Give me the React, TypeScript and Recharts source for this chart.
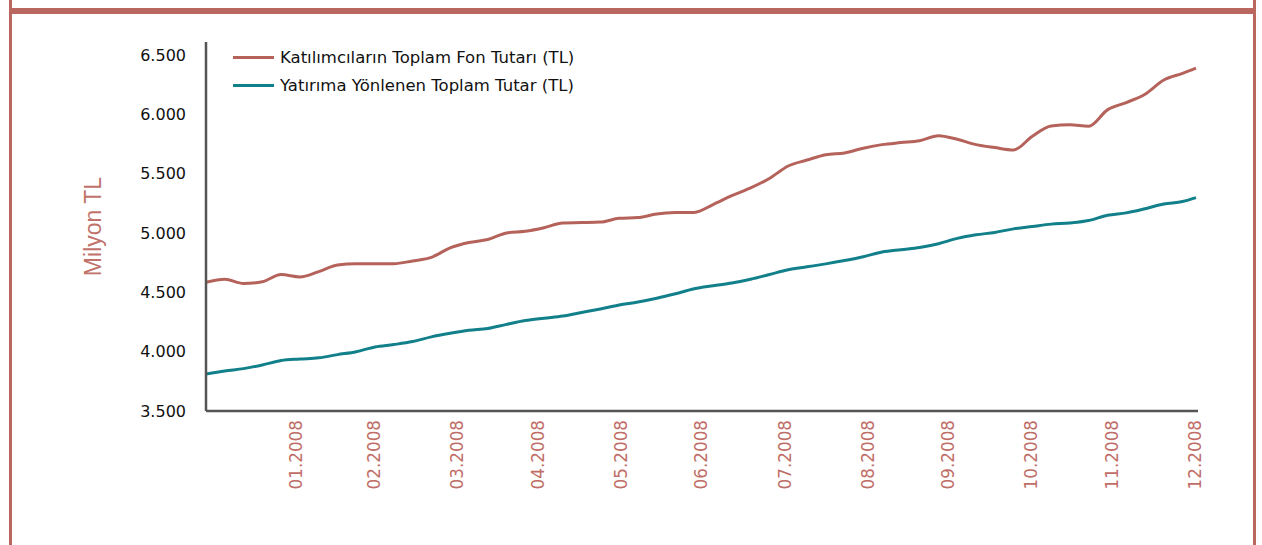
import React from 'react';
import { LineChart, Line, XAxis, YAxis, Label } from 'recharts';

// weekly readings, x = day of 2008 (Jan 1 = 1)
const days = [
  -3, 4, 11, 18, 25, 32, 39, 46, 53, 60, 67, 74, 81, 88, 95, 102, 109, 116,
  123, 130, 137, 144, 151, 158, 165, 172, 179, 186, 193, 200, 207, 214, 221,
  228, 235, 242, 249, 256, 263, 270, 277, 284, 291, 298, 305, 312, 319, 326,
  333, 340, 347, 354, 361, 366
];

const fonTutari = [
  4585, 4610, 4575, 4590, 4650, 4630, 4675, 4730, 4742, 4742, 4742, 4765,
  4795, 4875, 4920, 4945, 5000, 5015, 5045, 5085, 5088, 5092, 5124, 5130,
  5160, 5172, 5174, 5240, 5315, 5380, 5460, 5565, 5615, 5660, 5675, 5715,
  5745, 5762, 5778, 5820, 5790, 5745, 5720, 5700, 5815, 5903, 5912, 5900,
  6038, 6100, 6170, 6290, 6346, 6390
];

const yatirimTutari = [
  3812, 3838, 3857, 3888, 3925, 3938, 3948, 3975, 4000, 4040, 4060, 4085,
  4125, 4155, 4180, 4195, 4230, 4262, 4282, 4300, 4330, 4360, 4393, 4418,
  4450, 4488, 4530, 4555, 4578, 4610, 4650, 4690, 4715, 4740, 4768, 4800,
  4840, 4860, 4878, 4910, 4955, 4985, 5005, 5035, 5055, 5075, 5085, 5105,
  5150, 5170, 5205, 5245, 5265, 5298
];

const monthEnds = [31, 60, 91, 121, 152, 182, 213, 244, 274, 305, 335, 366];
const monthLabels = [
  '01.2008', '02.2008', '03.2008', '04.2008', '05.2008', '06.2008',
  '07.2008', '08.2008', '09.2008', '10.2008', '11.2008', '12.2008'
];
const yTicks = [3500, 4000, 4500, 5000, 5500, 6000, 6500];

const seriesNames = [
  'Katılımcıların Toplam Fon Tutarı (TL)',
  'Yatırıma Yönlenen Toplam Tutar (TL)'
];

const RED = '#b5625b';
const TEAL = '#12808a';
const FRAME = '#b9675f';
const FONT = '"DejaVu Sans", Verdana, sans-serif';

const data = days.map((d, i) => ({
  day: d,
  fon: fonTutari[i],
  yatirim: yatirimTutari[i]
}));

const fmt = (v: number) =>
  `${Math.floor(v / 1000)}.${String(v % 1000).padStart(3, '0')}`;

function MonthTick(props: any) {
  const { x, y, payload } = props;
  const idx = monthEnds.indexOf(payload.value);
  const ty = y + 1;
  return (
    <text
      x={x}
      y={ty}
      transform={`rotate(-90, ${x}, ${ty})`}
      textAnchor="end"
      dy="0.3em"
      fill="#bf6e67"
      fontSize={16.8}
      fontFamily={FONT}
    >
      {monthLabels[idx]}
    </text>
  );
}

export default function App() {
  return (
    <div
      style={{
        position: 'absolute',
        left: 0,
        top: 0,
        width: 1262,
        height: 545,
        background: '#fff',
        overflow: 'hidden'
      }}
    >
      {/* frame */}
      <div style={{ position: 'absolute', left: 9, top: 0, width: 3, height: 545, background: FRAME }} />
      <div style={{ position: 'absolute', left: 1253, top: 0, width: 3, height: 545, background: FRAME }} />
      <div style={{ position: 'absolute', left: 10, top: 8, width: 1244, height: 6, background: FRAME }} />

      <div style={{ position: 'absolute', left: 0, top: 0 }}>
        <LineChart
          width={1262}
          height={545}
          data={data}
          margin={{ top: 42, right: 64, bottom: 34, left: 86 }}
        >
          <XAxis
            dataKey="day"
            type="number"
            domain={[-3, 366.75]}
            ticks={monthEnds}
            interval={0}
            tick={<MonthTick />}
            tickLine={false}
            height={100}
            axisLine={{ stroke: '#555', strokeWidth: 2.5 }}
          />
          <YAxis
            type="number"
            domain={[3500, 6610]}
            ticks={yTicks}
            interval={0}
            tickFormatter={fmt}
            tickLine={false}
            tickSize={0}
            tickMargin={20}
            width={120}
            tick={{ fill: '#111', fontSize: 16, fontFamily: FONT }}
            axisLine={{ stroke: '#555', strokeWidth: 2.5 }}
          >
            <Label
              content={({ viewBox }: any) => {
                const cx = viewBox.x + 7;
                const cy = viewBox.y + viewBox.height / 2;
                return (
                  <text
                    x={cx}
                    y={cy}
                    transform={`rotate(-90, ${cx}, ${cy})`}
                    textAnchor="middle"
                    dy="0.35em"
                    fill="#c0726b"
                    fontSize={23}
                    fontFamily='"Liberation Sans", Arial, sans-serif'
                  >
                    Milyon TL
                  </text>
                );
              }}
            />
          </YAxis>
          <Line
            type="monotone"
            dataKey="fon"
            stroke={RED}
            strokeWidth={3}
            dot={false}
            isAnimationActive={false}
          />
          <Line
            type="monotone"
            dataKey="yatirim"
            stroke={TEAL}
            strokeWidth={3}
            dot={false}
            isAnimationActive={false}
          />
        </LineChart>
      </div>

      {/* legend */}
      <div style={{ position: 'absolute', left: 233, top: 43, fontFamily: FONT, fontSize: 16.5, color: '#111' }}>
        {seriesNames.map((name, i) => (
          <div key={name} style={{ display: 'flex', alignItems: 'center', height: 28.5 }}>
            <div style={{ width: 41, height: 3, background: i === 0 ? RED : TEAL, marginRight: 6 }} />
            <span>{name}</span>
          </div>
        ))}
      </div>
    </div>
  );
}
